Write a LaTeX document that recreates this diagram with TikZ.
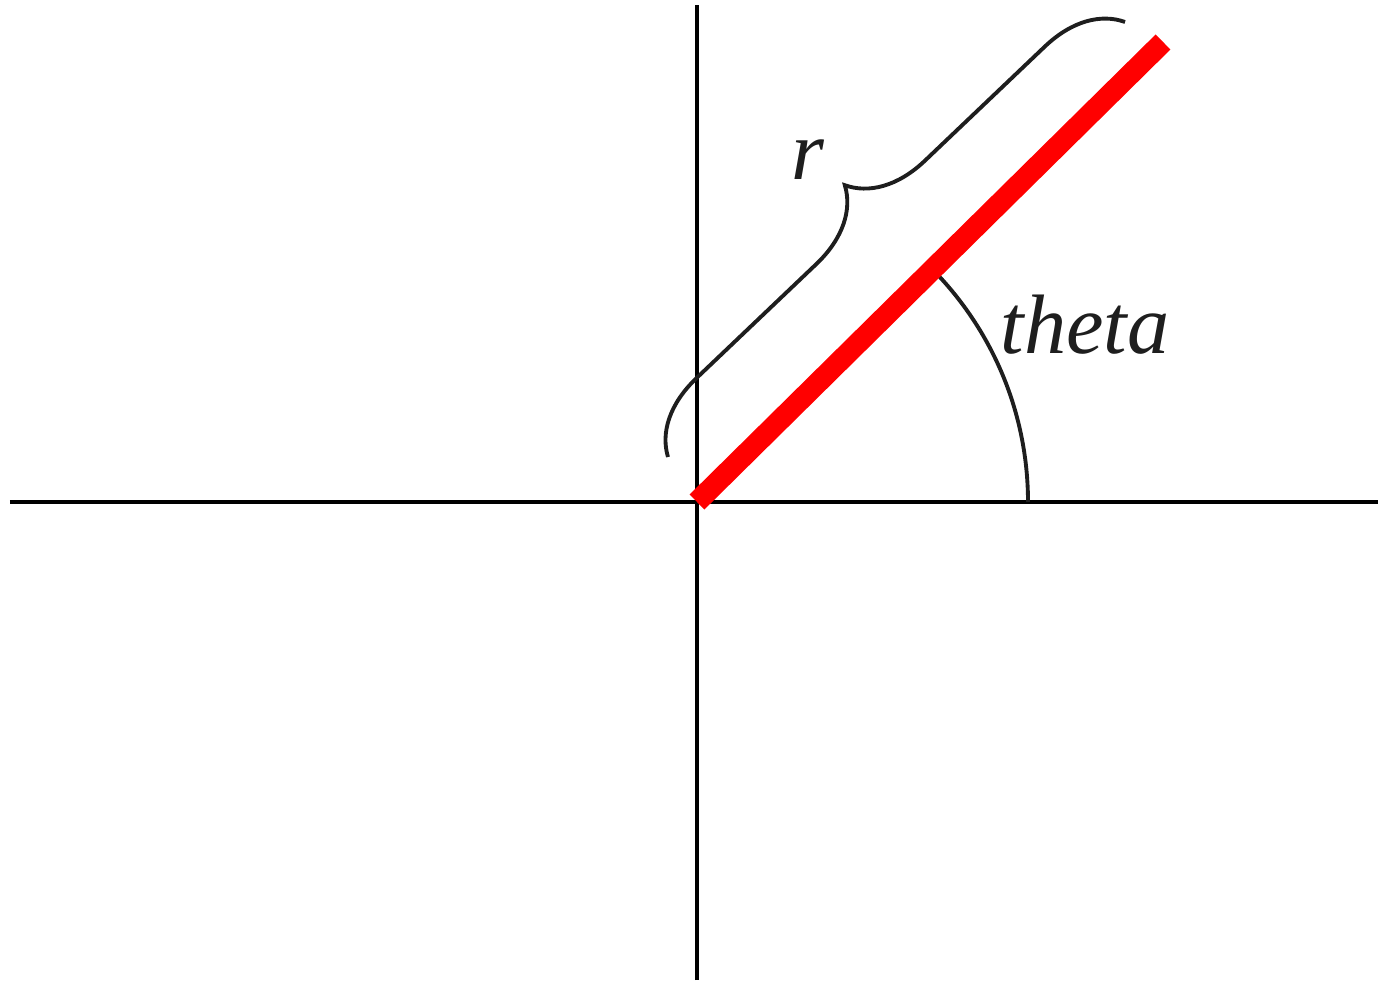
\documentclass[tikz,border=0pt]{standalone}
\usepackage{fontspec}
\setmainfont{Liberation Serif}
\newfontfamily\labelfont{Liberation Serif}[UprightFont=*-Italic]
\usepackage{xcolor}
\usetikzlibrary{calc,decorations.pathreplacing}
\definecolor{axisBlack}{RGB}{0,0,0}
\definecolor{radiusRed}{RGB}{255,0,0}
\definecolor{labelGray}{RGB}{30,30,30}

\begin{document}
\begin{tikzpicture}[x=1.0cm,y=1.0cm]
    \useasboundingbox (-6.97,-4.79) rectangle (6.81,5.02);
    \coordinate (O) at (0,0);
    \coordinate (tip) at (4.66,4.60);
    \coordinate (braceA) at (-0.29,0.45);
    \coordinate (braceB) at (4.28,4.80);

    % axes
    \draw[axisBlack, line width=1pt] (-6.87,0)--(6.81,0);
    \draw[axisBlack, line width=1pt] (0,-4.78)--(0,4.97);

    % angle and radius
    \draw[labelGray, line width=1.1pt] (3.31,0) arc[start angle=0, end angle=45, radius=3.31];
    \draw[radiusRed, line width=6pt] (O)--(tip);
    \draw[labelGray, line width=1.1pt, decorate, decoration={brace, amplitude=0.75cm}] (braceA)--(braceB);

    \node[text=labelGray, font=\labelfont\fontsize{24}{28}\selectfont] (rlabel) at (1.11,3.42) {r};
    \node[text=labelGray, font=\labelfont\fontsize{24}{28}\selectfont] (thetalabel) at (3.88,1.77) {theta};
\end{tikzpicture}
\end{document}
